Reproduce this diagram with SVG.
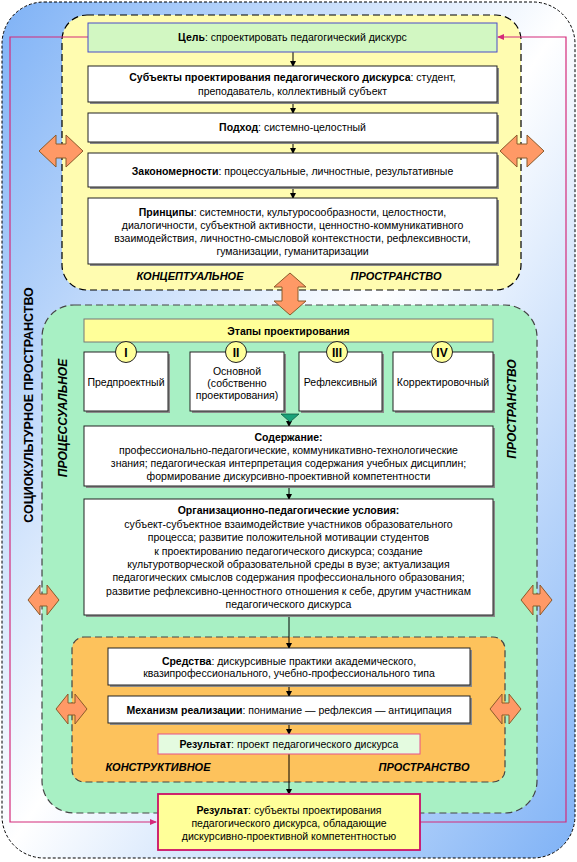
<svg xmlns="http://www.w3.org/2000/svg" width="577" height="862" viewBox="0 0 577 862">
<defs>
<linearGradient id="bg" x1="0" y1="0" x2="1" y2="1">
<stop offset="0" stop-color="#7fb2f6"/>
<stop offset="0.5" stop-color="#ffffff"/>
<stop offset="1" stop-color="#7fb2f6"/>
</linearGradient>
<marker id="ar" markerWidth="6" markerHeight="6" refX="5" refY="3" orient="auto" markerUnits="userSpaceOnUse">
<path d="M0,0 L6,3 L0,6 z" fill="#000"/>
</marker>
<marker id="arm" markerWidth="7" markerHeight="6" refX="6" refY="3" orient="auto" markerUnits="userSpaceOnUse">
<path d="M0,0 L7,3 L0,6 z" fill="#d42a7a"/>
</marker>
<symbol id="dblBig" overflow="visible">
<polygon points="0,16 17,0 17,9 27,9 27,0 44,16 27,32 27,23 17,23 17,32" class="oa"/>
</symbol>
<symbol id="dblSm" overflow="visible">
<polygon points="0,15 12,0 12,9 19,9 19,0 31,15 19,30 19,21 12,21 12,30" class="oa"/>
</symbol>
</defs>
<style>
.oa{fill:#ff9966;stroke:#8a5a2a;stroke-width:1}
.box{fill:#ffffff;stroke:#222;stroke-width:1}
.sh{fill:#8a8a8a}
.t{font-family:"Liberation Sans",Arial,sans-serif;font-size:10.5px;fill:#000;text-anchor:middle}
.b{font-weight:bold}
.lab{font-family:"Liberation Sans",Arial,sans-serif;font-size:11px;font-weight:bold;font-style:italic;fill:#000;text-anchor:middle}
.num{font-family:"Liberation Sans",Arial,sans-serif;font-size:12px;font-weight:bold;fill:#000;text-anchor:middle}
.conn line{stroke:#000;stroke-width:1;marker-end:url(#ar)}
.fb{fill:none;stroke:#d42a7a;stroke-width:1.2}
</style>

<!-- outer sociocultural space -->
<g id="socio">
<rect x="2" y="2" width="573" height="856" rx="42" fill="url(#bg)" stroke="#000" stroke-width="1" stroke-dasharray="3,2"/>
<text class="lab" style="font-style:normal;font-size:12.5px" transform="translate(33,405) rotate(-90)">СОЦИОКУЛЬТУРНОЕ ПРОСТРАНСТВО</text>
</g>

<!-- conceptual space -->
<g id="conceptual">
<rect x="62" y="15" width="459" height="275" rx="25" fill="#fffcb0" stroke="#000" stroke-width="1.2" stroke-dasharray="7,4"/>
<text class="lab" x="190" y="280">КОНЦЕПТУАЛЬНОЕ</text>
<text class="lab" x="396" y="280">ПРОСТРАНСТВО</text>
</g>

<!-- processual space -->
<g id="processual">
<rect x="42" y="305" width="495" height="508" rx="32" fill="#a8f0c4" stroke="#444" stroke-width="1.2" stroke-dasharray="7,4"/>
<text class="lab" style="font-size:12px" transform="translate(67,418) rotate(-90)">ПРОЦЕССУАЛЬНОЕ</text>
<text class="lab" style="font-size:12px" transform="translate(516,409) rotate(-90)">ПРОСТРАНСТВО</text>
</g>

<!-- constructive space -->
<g id="constructive">
<rect x="72" y="637" width="433" height="145" rx="12" fill="#fdc25c" stroke="#444" stroke-width="1.2" stroke-dasharray="7,4"/>
<text class="lab" x="158" y="771">КОНСТРУКТИВНОЕ</text>
<text class="lab" x="424" y="771">ПРОСТРАНСТВО</text>
</g>

<!-- connectors -->
<g id="connectors">
<path class="fb" d="M88,37 H10 V822 H156" marker-end="url(#arm)"/>
<path class="fb" d="M420,822 H566 V37 H498" marker-end="url(#arm)"/>
<g class="conn">
<line x1="293" y1="52" x2="293" y2="66"/>
<line x1="293" y1="102" x2="293" y2="113"/>
<line x1="293" y1="142" x2="293" y2="153"/>
<line x1="293" y1="187" x2="293" y2="198"/>
<line x1="289" y1="420" x2="289" y2="426"/>
<line x1="289" y1="486" x2="289" y2="499"/>
<line x1="289" y1="615" x2="289" y2="648"/>
<line x1="289" y1="685" x2="289" y2="696"/>
<line x1="289" y1="723" x2="289" y2="734"/>
<line x1="289" y1="754" x2="289" y2="794"/>
</g>
<polygon points="281,414 299,414 290,422" fill="#1aa37a" stroke="#0c5a40" stroke-width="0.8"/>
<use href="#dblBig" x="39" y="135"/>
<use href="#dblBig" x="500" y="135"/>
<use href="#dblSm" x="28" y="585"/>
<use href="#dblSm" x="521" y="585"/>
<use href="#dblSm" x="56" y="694"/>
<use href="#dblSm" x="490" y="694"/>
<polygon class="oa" points="290,273 306,287 298,287 298,301 306,301 290,315 274,301 282,301 282,287 274,287"/>
</g>

<!-- conceptual boxes -->
<g id="goal">
<rect x="88" y="23" width="409" height="29" fill="#d2f7c2" stroke="#4b4bc8" stroke-width="1"/>
<text class="t" x="292.5" y="41"><tspan class="b">Цель</tspan>: спроектировать педагогический дискурс</text>
</g>
<g id="subjects">
<rect class="sh" x="90" y="68" width="409" height="36"/>
<rect class="box" x="88" y="66" width="409" height="36"/>
<text class="t" x="292.5" y="81"><tspan class="b">Субъекты проектирования педагогического дискурса</tspan>: студент,</text>
<text class="t" x="292.5" y="95">преподаватель, коллективный субъект</text>
</g>
<g id="approach">
<rect class="sh" x="90" y="115" width="409" height="29"/>
<rect class="box" x="88" y="113" width="409" height="29"/>
<text class="t" x="292.5" y="131"><tspan class="b">Подход</tspan>: системно-целостный</text>
</g>
<g id="laws">
<rect class="sh" x="90" y="155" width="409" height="34"/>
<rect class="box" x="88" y="153" width="409" height="34"/>
<text class="t" x="292.5" y="175"><tspan class="b">Закономерности</tspan>: процессуальные, личностные, результативные</text>
</g>
<g id="principles">
<rect class="sh" x="90" y="200" width="409" height="66"/>
<rect class="box" x="88" y="198" width="409" height="66"/>
<text class="t" x="292.5" y="216"><tspan class="b">Принципы</tspan>: системности, культуросообразности, целостности,</text>
<text class="t" x="292.5" y="229">диалогичности, субъектной активности, ценностно-коммуникативного</text>
<text class="t" x="292.5" y="242">взаимодействия, личностно-смысловой контекстности, рефлексивности,</text>
<text class="t" x="292.5" y="255">гуманизации, гуманитаризации</text>
</g>

<!-- stages -->
<g id="stages">
<rect x="84" y="319" width="409" height="23" fill="#ffff99" stroke="#777" stroke-width="1"/>
<text class="t b" x="288.5" y="335">Этапы проектирования</text>
</g>
<g id="stage1">
<rect class="sh" x="86" y="354" width="84" height="59"/>
<rect class="box" x="84" y="352" width="84" height="59"/>
<circle cx="126" cy="352" r="10.5" fill="#ffff99" stroke="#222"/>
<text class="num" x="126" y="356.5">I</text>
<text class="t" x="126" y="386">Предпроектный</text>
</g>
<g id="stage2">
<rect class="sh" x="192" y="354" width="94" height="59"/>
<rect class="box" x="190" y="352" width="94" height="59"/>
<circle cx="236" cy="352" r="10.5" fill="#ffff99" stroke="#222"/>
<text class="num" x="236" y="356.5">II</text>
<text class="t" x="237" y="375">Основной</text>
<text class="t" x="237" y="387">(собственно</text>
<text class="t" x="237" y="399">проектирования)</text>
</g>
<g id="stage3">
<rect class="sh" x="301" y="354" width="83" height="59"/>
<rect class="box" x="299" y="352" width="83" height="59"/>
<circle cx="337" cy="352" r="10.5" fill="#ffff99" stroke="#222"/>
<text class="num" x="337" y="356.5">III</text>
<text class="t" x="340.5" y="386">Рефлексивный</text>
</g>
<g id="stage4">
<rect class="sh" x="395" y="354" width="100" height="59"/>
<rect class="box" x="393" y="352" width="100" height="59"/>
<circle cx="442" cy="352" r="10.5" fill="#ffff99" stroke="#222"/>
<text class="num" x="442" y="356.5">IV</text>
<text class="t" x="443" y="386">Корректировочный</text>
</g>

<g id="content">
<rect class="sh" x="86" y="428" width="409" height="60"/>
<rect class="box" x="84" y="426" width="409" height="60"/>
<text class="t b" x="288.5" y="441">Содержание:</text>
<text class="t" x="288.5" y="454">профессионально-педагогические, коммуникативно-технологические</text>
<text class="t" x="288.5" y="467">знания; педагогическая интерпретация содержания учебных дисциплин;</text>
<text class="t" x="288.5" y="480">формирование дискурсивно-проективной компетентности</text>
</g>
<g id="conditions">
<rect class="sh" x="86" y="501" width="409" height="116"/>
<rect class="box" x="84" y="499" width="409" height="116"/>
<text class="t b" x="288.5" y="514">Организационно-педагогические условия:</text>
<text class="t" x="288.5" y="528">субъект-субъектное взаимодействие участников образовательного</text>
<text class="t" x="288.5" y="541">процесса; развитие положительной мотивации студентов</text>
<text class="t" x="288.5" y="555">к проектированию педагогического дискурса; создание</text>
<text class="t" x="288.5" y="568">культуротворческой образовательной среды в вузе; актуализация</text>
<text class="t" x="288.5" y="581">педагогических смыслов содержания профессионального образования;</text>
<text class="t" x="288.5" y="595">развитие рефлексивно-ценностного отношения к себе, другим участникам</text>
<text class="t" x="288.5" y="608">педагогического дискурса</text>
</g>

<!-- constructive boxes -->
<g id="means">
<rect class="sh" x="110" y="650" width="362" height="37"/>
<rect class="box" x="108" y="648" width="362" height="37"/>
<text class="t" x="289" y="665"><tspan class="b">Средства</tspan>: дискурсивные практики академического,</text>
<text class="t" x="289" y="677">квазипрофессионального, учебно-профессионального типа</text>
</g>
<g id="mechanism">
<rect class="sh" x="110" y="698" width="362" height="27"/>
<rect class="box" x="108" y="696" width="362" height="27"/>
<text class="t" x="289" y="714"><tspan class="b">Механизм реализации</tspan>: понимание — рефлексия — антиципация</text>
</g>
<g id="result1">
<rect x="158" y="734" width="262" height="20" fill="#e4fbe0" stroke="#e8508a" stroke-width="1"/>
<text class="t" x="289" y="748"><tspan class="b">Результат</tspan>: проект педагогического дискурса</text>
</g>

<g id="result2">
<rect x="158" y="794" width="262" height="56" fill="#ffff99" stroke="#cc0f66" stroke-width="1.8"/>
<text class="t" x="289" y="814"><tspan class="b">Результат</tspan>: субъекты проектирования</text>
<text class="t" x="289" y="827">педагогического дискурса, обладающие</text>
<text class="t" x="289" y="840">дискурсивно-проективной компетентностью</text>
</g>
</svg>
